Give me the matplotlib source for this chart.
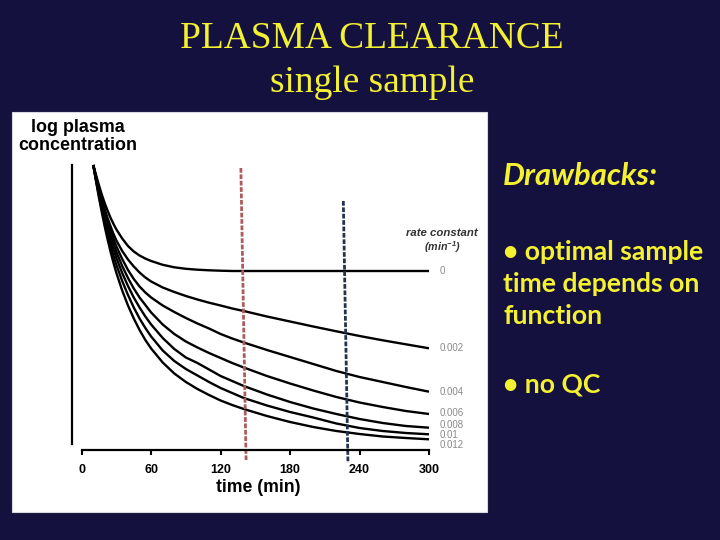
import matplotlib
matplotlib.use('Agg')
import matplotlib.pyplot as plt
from matplotlib.patches import Rectangle

# ---------------- data (arbitrary log-concentration units) ----------------
times = [10, 12.5, 15, 17.5, 20, 22.5, 25, 27.5, 30,
         35, 40, 45, 50, 55, 60,
         70, 80, 90, 100, 110, 120, 130, 140,
         160, 180, 200, 220, 240, 260, 280, 300]
rate_labels = ['0', '0.002', '0.004', '0.006', '0.008', '0.01', '0.012']

conc_k0000 = [2.85, 2.745, 2.645, 2.55, 2.465, 2.39, 2.32, 2.26, 2.205,
              2.115, 2.04, 1.985, 1.945, 1.914, 1.89,
              1.852, 1.827, 1.812, 1.803, 1.797, 1.793, 1.79, 1.79,
              1.79, 1.79, 1.79, 1.79, 1.79, 1.79, 1.79, 1.79]
conc_k0002 = [2.85, 2.73, 2.615, 2.505, 2.405, 2.315, 2.235, 2.16, 2.095,
              1.99, 1.905, 1.835, 1.775, 1.725, 1.685,
              1.625, 1.58, 1.54, 1.505, 1.473, 1.445, 1.415, 1.39,
              1.335, 1.285, 1.235, 1.187, 1.14, 1.097, 1.057, 1.017]
conc_k0004 = [2.85, 2.72, 2.60, 2.485, 2.38, 2.28, 2.19, 2.11, 2.035,
              1.91, 1.80, 1.71, 1.635, 1.575, 1.525,
              1.445, 1.38, 1.32, 1.265, 1.215, 1.16, 1.115, 1.075,
              1.00, 0.93, 0.86, 0.79, 0.73, 0.68, 0.63, 0.583]
conc_k0006 = [2.85, 2.71, 2.58, 2.46, 2.35, 2.245, 2.15, 2.06, 1.98,
              1.84, 1.72, 1.615, 1.525, 1.45, 1.375,
              1.255, 1.16, 1.085, 1.025, 0.97, 0.92, 0.87, 0.825,
              0.74, 0.665, 0.595, 0.53, 0.475, 0.43, 0.39, 0.36]
conc_k0008 = [2.85, 2.70, 2.56, 2.43, 2.31, 2.20, 2.10, 2.005, 1.92,
              1.77, 1.64, 1.525, 1.425, 1.335, 1.255,
              1.12, 1.01, 0.925, 0.87, 0.805, 0.74, 0.69, 0.64,
              0.555, 0.48, 0.415, 0.36, 0.31, 0.27, 0.24, 0.223]
conc_k0010 = [2.85, 2.69, 2.54, 2.40, 2.27, 2.15, 2.04, 1.94, 1.85,
              1.69, 1.55, 1.425, 1.315, 1.22, 1.135,
              0.995, 0.89, 0.81, 0.745, 0.68, 0.62, 0.57, 0.52,
              0.445, 0.38, 0.325, 0.265, 0.22, 0.19, 0.17, 0.157]
conc_k0012 = [2.85, 2.68, 2.52, 2.37, 2.23, 2.10, 1.98, 1.87, 1.77,
              1.595, 1.445, 1.315, 1.20, 1.10, 1.015,
              0.875, 0.765, 0.68, 0.61, 0.55, 0.495, 0.45, 0.41,
              0.34, 0.28, 0.23, 0.19, 0.16, 0.135, 0.12, 0.107]
curves = [conc_k0000, conc_k0002, conc_k0004, conc_k0006, conc_k0008, conc_k0010, conc_k0012]

x_ticks = [0, 60, 120, 180, 240, 300]
x_tick_labels = ['0', '60', '120', '180', '240', '300']

sample_early_t = [137.5, 142.0]
sample_early_y = [2.82, -0.10]
sample_late_t = [226.0, 230.0]
sample_late_y = [2.49, -0.13]

# ---------------- styling ----------------
BG = '#15113f'
YELLOW = '#f4f230'
W, H = 720, 540

def fx(px):
    return px / W

def fy(py):
    return 1 - py / H

fig = plt.figure(figsize=(7.2, 5.4), dpi=100)
fig.patch.set_facecolor(BG)

# white panel
panel = Rectangle((fx(12), fy(512)), 475 / W, 400 / H, transform=fig.transFigure,
                  facecolor='white', edgecolor='#d8d8e0', lw=0.8, zorder=0.5)
fig.add_artist(panel)

# axes: x data -10..300 -> px 70.1..429 ; y data -0.2..2.9 -> px 470..160
x0 = 70.1
x1 = 429.0
ax = fig.add_axes([fx(x0), fy(470), (x1 - x0) / W, 310 / H], zorder=1)
ax.patch.set_visible(False)
ax.set_xlim(-10, 300)
ax.set_ylim(-0.2, 2.9)

for c in curves:
    ax.plot(times, c, color='black', lw=1.7, solid_capstyle='butt',
            solid_joinstyle='round', clip_on=False)

ax.plot(sample_early_t, sample_early_y, color='#ad5a5a', lw=2.0, dashes=(1.7, 0.6), clip_on=False)
ax.plot(sample_late_t, sample_late_y, color='#22324f', lw=2.0, dashes=(1.7, 0.6), clip_on=False)

# spines
for s in ['top', 'right']:
    ax.spines[s].set_visible(False)
ax.spines['left'].set_position(('data', -8.4))
ax.spines['left'].set_bounds(0.06, 2.85)
ax.spines['left'].set_linewidth(1.6)
ax.spines['bottom'].set_position(('data', 0))
ax.spines['bottom'].set_bounds(0, 300)
ax.spines['bottom'].set_linewidth(1.6)
ax.set_yticks([])
ax.set_xticks(x_ticks)
ax.set_xticklabels(x_tick_labels, fontsize=9, fontweight='bold', family='Liberation Sans')
ax.tick_params(axis='x', direction='out', length=3.8, width=1.5, pad=6, color='black')

# right labels (rate constants)
label_offsets_px = [0, 0, 0, 0.7, 2.7, -0.7, -5.7]
for c, lab, off in zip(curves, rate_labels, label_offsets_px):
    ax.annotate(lab, xy=(300, c[-1]), xytext=(8, off * 0.72), textcoords='offset points',
                fontsize=7, color='#8a8a8a', va='center', ha='left', annotation_clip=False,
                family='Liberation Sans')

rc1 = fig.text(fx(442), fy(232.5), 'rate constant', ha='center', va='center', fontsize=8,
               style='italic', fontweight='bold', color='#333333', family='Liberation Sans')
rc2 = fig.text(fx(442), fy(247), r'(min$^{\mathregular{-1}}$)', ha='center', va='center', fontsize=8,
               style='italic', fontweight='bold', color='#333333', family='Liberation Sans')

# axis titles
ylab = fig.text(fx(78), fy(136.5), 'log plasma\nconcentration', ha='center', va='center',
                multialignment='center', fontsize=13, fontweight='bold', family='Liberation Sans',
                linespacing=1.02)
xlab = fig.text(fx(258), fy(487), 'time (min)', ha='center', va='center',
                fontsize=13, fontweight='bold', family='Liberation Sans')

# slide title
t1 = fig.text(fx(372), fy(47.5), 'PLASMA CLEARANCE', ha='center', va='baseline',
              fontsize=26, family='Liberation Serif', color=YELLOW)
t2 = fig.text(fx(372), fy(91.5), 'single sample', ha='center', va='baseline',
              fontsize=26, family='Liberation Serif', color=YELLOW)

# right-hand text
r0 = fig.text(fx(503), fy(185), 'Drawbacks:', ha='left', va='baseline', fontsize=18,
              family='Lato', fontweight='bold', style='italic', color=YELLOW)
bullet_lines = [('\u2022 optimal sample', 260), ('time depends on', 291.7),
                ('function', 323.5), ('\u2022 no QC', 393)]
rts = []
for txt, py in bullet_lines:
    rts.append(fig.text(fx(503), fy(py), txt, ha='left', va='baseline', fontsize=18,
                        family='Lato', fontweight='bold', color=YELLOW))

# fit font sizes to measured widths
renderer = fig.canvas.get_renderer()

def fit(t, target):
    w = t.get_window_extent(renderer).width
    t.set_fontsize(t.get_fontsize() * target / w)
    return t.get_fontsize()

s = fit(t1, 383)
t2.set_fontsize(s)
fit(r0, 155)
s = fit(rts[0], 200)
for t in rts[1:]:
    t.set_fontsize(s)
fit(ylab, 118)
fit(xlab, 84)
s = fit(rc1, 72)
rc2.set_fontsize(s * 0.95)

fig.savefig('out.png', dpi=100, facecolor=BG)
